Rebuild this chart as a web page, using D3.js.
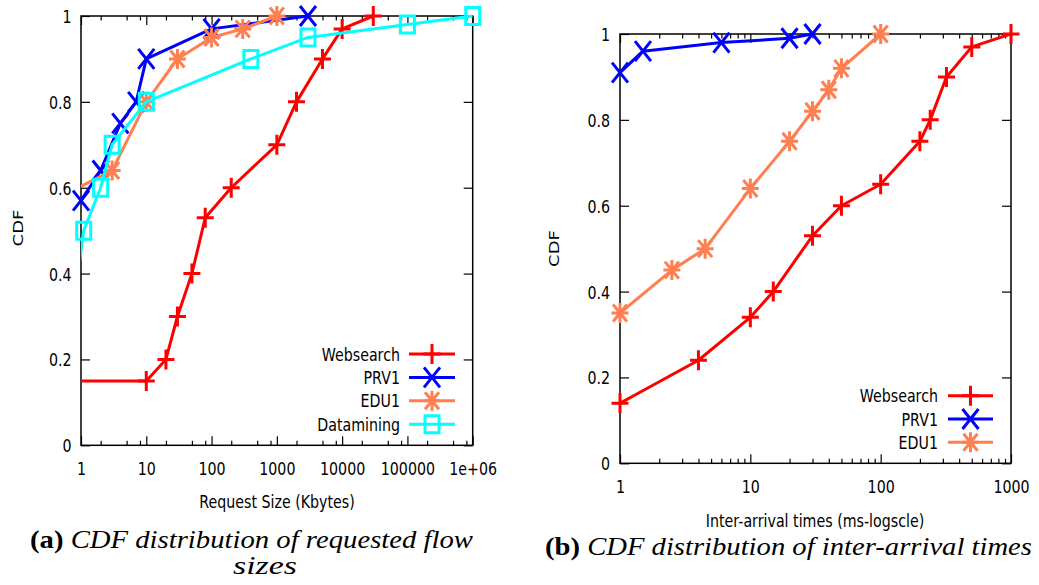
<!DOCTYPE html>
<html lang="en">
<head>
<meta charset="UTF-8">
<title>CDF of flow sizes and inter-arrival times</title>
<script src="https://d3js.org/d3.v7.min.js"></script>
<style>
body { margin: 0; background: #fff; }
svg { display: block; background: #fff; }
.tick text, .lbl { font-family: "DejaVu Sans", sans-serif; font-size: 18px; fill: #000; }
.tick line { stroke: #000; stroke-width: 1.2; }
.caption { font-family: "Liberation Serif", "Times New Roman", Times, serif; font-size: 26px; fill: #000; }
</style>
</head>
<body>
<svg id="chart" width="1039" height="585"></svg>
<script>

// series look (same order in both panels)
const seriesNames = ["Websearch", "PRV1", "EDU1", "Datamining"];
const seriesColors = ["#ff0000", "#0000ff", "#ff7f50", "#00ffff"];
const seriesMarkers = ["plus", "cross", "star", "square"];

// (a) requested flow sizes, Kbytes
const sizeWebsearchX = [0.5, 10, 20, 30, 50, 80, 200, 1000, 2000, 5000, 10000, 30000];
const sizeWebsearchY = [0.15, 0.15, 0.2, 0.3, 0.4, 0.53, 0.6, 0.7, 0.8, 0.9, 0.97, 1.0];
const sizePrv1X = [1, 2, 4, 7, 10, 100, 3000];
const sizePrv1Y = [0.57, 0.64, 0.75, 0.8, 0.9, 0.97, 1.0];
const sizeEdu1X = [0.9, 3, 10, 30, 100, 300, 1000];
const sizeEdu1Y = [0.6, 0.64, 0.8, 0.9, 0.95, 0.97, 1.0];
const sizeDataminingX = [0.9, 1.1, 2, 3, 10, 400, 3000, 100000, 1000000];
const sizeDataminingY = [0.4, 0.5, 0.6, 0.7, 0.8, 0.9, 0.95, 0.98, 1.0];

// (b) inter-arrival times, ms
const iatWebsearchX = [1, 4, 10, 15, 30, 50, 100, 200, 240, 320, 500, 1000];
const iatWebsearchY = [0.14, 0.24, 0.34, 0.4, 0.53, 0.6, 0.65, 0.75, 0.8, 0.9, 0.97, 1.0];
const iatPrv1X = [1, 1.5, 6, 20, 30];
const iatPrv1Y = [0.91, 0.96, 0.98, 0.99, 1.0];
const iatEdu1X = [1, 2.5, 4.5, 10, 20, 30, 40, 50, 100];
const iatEdu1Y = [0.35, 0.45, 0.5, 0.64, 0.75, 0.82, 0.87, 0.92, 1.0];

// ticks
const yTicks = [0, 0.2, 0.4, 0.6, 0.8, 1];
const yTickLabels = ["0", "0.2", "0.4", "0.6", "0.8", "1"];
const sizeTicks = [1, 10, 100, 1000, 10000, 100000, 1000000];
const sizeTickLabels = ["1", "10", "100", "1000", "10000", "100000", "1e+06"];
const sizeMinorSteps = [2, 5, 8];
const iatTicks = [1, 10, 100, 1000];
const iatTickLabels = ["1", "10", "100", "1000"];
const iatMinorSteps = [2, 3, 4, 5, 6, 7, 8, 9];

const SX = 0.79; // glyphs in the picture are squeezed horizontally

const svg = d3.select("#chart");

function zipSeries(xs, ys) {
    return xs.map((v, i) => [v, ys[i]]);
}

function markerPath(type) {
    if (type == "plus") return "M-8.5,0H8.5M0,-10V10";
    if (type == "cross") return "M-8,-10L8,10M-8,10L8,-10";
    if (type == "star") return "M-8.5,0H8.5M0,-10V10M-7,-8.5L7,8.5M-7,8.5L7,-8.5";
    return "M-7,-8.5H7V8.5H-7Z";
}

function squeezedText(g, x, y, str, anchor) {
    return g.append("text")
        .attr("class", "lbl")
        .attr("transform", `translate(${x},${y}) scale(${SX},1)`)
        .attr("text-anchor", anchor)
        .text(str);
}

function drawPanel(p) {
    const x = d3.scaleLog().domain(p.xDomain).range([p.left, p.right]);
    const y = d3.scaleLinear().domain([0, 1]).range([p.bottom, p.top]);
    const g = svg.append("g");

    // minor ticks (bottom + top)
    const minor = [];
    p.xTicks.slice(0, -1).forEach(t => p.minorSteps.forEach(m => minor.push(t * m)));
    g.append("g").attr("transform", `translate(0,${p.bottom})`)
        .call(d3.axisBottom(x).tickValues(minor).tickSize(-4.5).tickFormat(""));
    g.append("g").attr("transform", `translate(0,${p.top})`)
        .call(d3.axisTop(x).tickValues(minor).tickSize(-4.5).tickFormat(""));

    // major x ticks with labels
    g.append("g").attr("transform", `translate(0,${p.bottom})`)
        .call(d3.axisBottom(x).tickValues(p.xTicks).tickSize(-9).tickFormat((d, i) => p.xLabels[i]))
        .selectAll("text")
        .attr("y", 30).attr("dy", null)
        .attr("transform", `scale(${SX},1)`);
    g.append("g").attr("transform", `translate(0,${p.top})`)
        .call(d3.axisTop(x).tickValues(p.xTicks).tickSize(-9).tickFormat(""));

    // y ticks
    g.append("g").attr("transform", `translate(${p.left},0)`)
        .call(d3.axisLeft(y).tickValues(yTicks).tickSize(-9).tickFormat((d, i) => yTickLabels[i]))
        .selectAll("text")
        .attr("x", -p.yLabelGap / SX).attr("dy", "0.36em")
        .attr("transform", `scale(${SX},1)`);
    g.append("g").attr("transform", `translate(${p.right},0)`)
        .call(d3.axisRight(y).tickValues(yTicks).tickSize(-9).tickFormat(""));

    g.selectAll(".domain").remove();

    // frame
    g.append("rect")
        .attr("x", p.left).attr("y", p.top)
        .attr("width", p.right - p.left).attr("height", p.bottom - p.top)
        .attr("fill", "none").attr("stroke", "#000").attr("stroke-width", 1.5);

    // clip for the lines
    g.append("clipPath").attr("id", p.id + "-clip")
        .append("rect")
        .attr("x", p.left).attr("y", p.top - 2)
        .attr("width", p.right - p.left).attr("height", p.bottom - p.top + 4);

    const line = d3.line().x(d => x(d[0])).y(d => y(d[1]));
    const [d0, d1] = p.xDomain;

    p.series.forEach((s, i) => {
        const color = seriesColors[i];
        g.append("path")
            .datum(s)
            .attr("clip-path", `url(#${p.id}-clip)`)
            .attr("d", line)
            .attr("fill", "none")
            .attr("stroke", color)
            .attr("stroke-width", 3)
            .attr("stroke-linejoin", "round");

        // gnuplot only draws the points that fall inside the x range
        g.selectAll(null)
            .data(s.filter(d => d[0] >= d0 * 0.999 && d[0] <= d1 * 1.001))
            .enter()
            .append("path")
            .attr("transform", d => `translate(${x(d[0])},${y(d[1])})`)
            .attr("d", markerPath(seriesMarkers[i]))
            .attr("fill", "none")
            .attr("stroke", color)
            .attr("stroke-width", 3);
    });

    // legend
    p.series.forEach((s, i) => {
        const ly = p.legendY + i * p.legendStep;
        squeezedText(g, p.legendTextX, ly + 6.5, seriesNames[i], "end");
        g.append("line")
            .attr("x1", p.legendLine[0]).attr("x2", p.legendLine[1])
            .attr("y1", ly).attr("y2", ly)
            .attr("stroke", seriesColors[i]).attr("stroke-width", 3);
        g.append("path")
            .attr("transform", `translate(${(p.legendLine[0] + p.legendLine[1]) / 2},${ly})`)
            .attr("d", markerPath(seriesMarkers[i]))
            .attr("fill", "none")
            .attr("stroke", seriesColors[i])
            .attr("stroke-width", 3);
    });

    // axis titles
    squeezedText(g, p.xTitlePos[0], p.xTitlePos[1], p.xTitle, "middle");
    g.append("text")
        .attr("class", "lbl")
        .attr("transform", `translate(${p.yTitlePos[0]},${p.yTitlePos[1]}) rotate(-90) scale(1,${SX})`)
        .attr("text-anchor", "middle")
        .text("CDF");
}

drawPanel({
    id: "a",
    left: 81, right: 472.7, top: 16, bottom: 445.3,
    xDomain: [1, 1000000],
    xTicks: sizeTicks, xLabels: sizeTickLabels, minorSteps: sizeMinorSteps,
    yLabelGap: 9.5,
    series: [
        zipSeries(sizeWebsearchX, sizeWebsearchY),
        zipSeries(sizePrv1X, sizePrv1Y),
        zipSeries(sizeEdu1X, sizeEdu1Y),
        zipSeries(sizeDataminingX, sizeDataminingY)
    ],
    legendY: 354, legendStep: 23.4, legendTextX: 400, legendLine: [409, 455],
    xTitle: "Request Size (Kbytes)", xTitlePos: [277, 508],
    yTitlePos: [23, 228]
});

drawPanel({
    id: "b",
    left: 620, right: 1011, top: 34, bottom: 463.3,
    xDomain: [1, 1000],
    xTicks: iatTicks, xLabels: iatTickLabels, minorSteps: iatMinorSteps,
    yLabelGap: 10,
    series: [
        zipSeries(iatWebsearchX, iatWebsearchY),
        zipSeries(iatPrv1X, iatPrv1Y),
        zipSeries(iatEdu1X, iatEdu1Y)
    ],
    legendY: 395.7, legendStep: 23.3, legendTextX: 938, legendLine: [948, 993],
    xTitle: "Inter-arrival times (ms-logscle)", xTitlePos: [815, 527],
    yTitlePos: [559, 248.5]
});

// sub-figure captions
function caption(x, y, width, bold, italic) {
    const t = svg.append("text")
        .attr("class", "caption")
        .attr("x", x).attr("y", y)
        .attr("textLength", width)
        .attr("lengthAdjust", "spacingAndGlyphs");
    if (bold) t.append("tspan").attr("font-weight", "bold").text(bold);
    t.append("tspan").attr("font-style", "italic").text(italic);
}

caption(30, 548, 443, "(a)", " CDF distribution of requested flow");
caption(233, 574, 64, null, "sizes");
caption(545, 555, 487, "(b)", " CDF distribution of inter-arrival times");

</script>
</body>
</html>
